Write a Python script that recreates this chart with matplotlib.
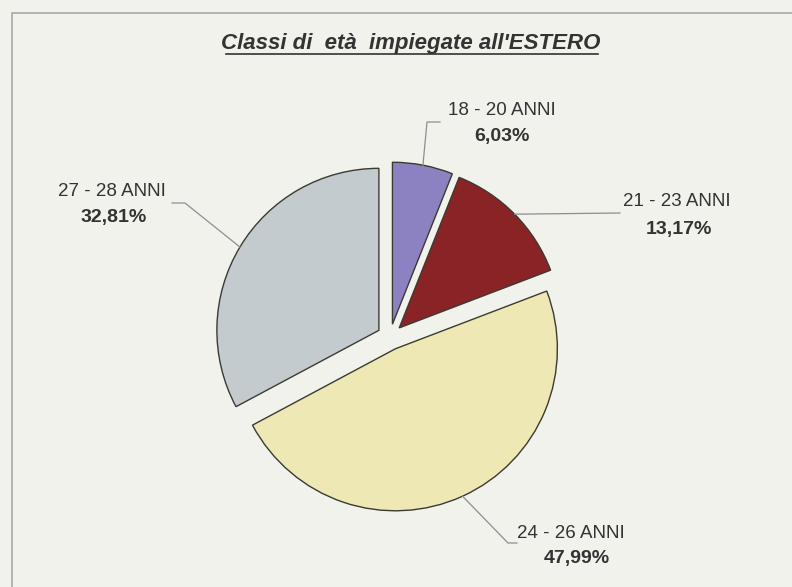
import numpy as np
import matplotlib
matplotlib.use("Agg")
import matplotlib.pyplot as plt
from matplotlib.lines import Line2D

# Data
labels = ["18 - 20 ANNI", "21 - 23 ANNI", "24 - 26 ANNI", "27 - 28 ANNI"]
values = [6.03, 13.17, 47.99, 32.81]
pct_text = ["6,03%", "13,17%", "47,99%", "32,81%"]

colors = ["#8C82C2", "#8A2326", "#EEE8B4", "#C4CBCF"]
EDGE = "#3A3A32"
TEXT = "#333333"
LEADER = "#8E8E8E"
BG = "#F1F2EC"

W, H = 792, 587
CX, CY, R = 390, 337, 162  # pie centre / radius in pixels


def px(x, y):
    """pixel position (top-left origin) -> data coords"""
    return (x - CX) / R, (CY - y) / R


fig = plt.figure(figsize=(W / 100, H / 100), dpi=100, facecolor=BG)
ax = fig.add_axes([0, 0, 1, 1])
ax.set_facecolor(BG)

wedges, _ = ax.pie(values, colors=colors, startangle=90, counterclock=False,
                   explode=[0.08] * 4, radius=1, center=(0, 0),
                   wedgeprops=dict(edgecolor=EDGE, linewidth=1.0))
x0, y0 = px(0, H)
x1, y1 = px(W, 0)
ax.set_xlim(x0, x1)
ax.set_ylim(y0, y1)
ax.set_aspect("equal")
ax.axis("off")

# frame of the scanned page
ax.add_line(Line2D(*zip(px(12, H), px(12, 13), px(W, 13)), color="#A8A8A8", lw=1.2))

# title with underline
tx, ty = px(411, 44)
ax.text(tx, ty, "Classi di  età  impiegate all'ESTERO", ha="center", va="center",
        fontsize=16, fontweight="bold", fontstyle="italic", color=TEXT,
        family=["Liberation Sans Narrow", "Liberation Sans", "DejaVu Sans"])
ax.add_line(Line2D(*zip(px(226, 54), px(598, 54)), color=TEXT, lw=1.2))

# label layout: (name pos, pct pos, leader elbow points) in pixels
layout = [
    ((502, 111), (502, 137), [(427, 122), (440, 122)]),
    ((677, 202), (679, 230), [(620, 213)]),
    ((571, 533), (577, 558), [(508, 543), (517, 543)]),
    ((112, 192), (114, 218), [(185, 203), (172, 203)]),
]

for w, lab, pct, (lpos, ppos, elbow) in zip(wedges, labels, pct_text, layout):
    mid = np.radians((w.theta1 + w.theta2) / 2)
    sx = w.center[0] + w.r * np.cos(mid)
    sy = w.center[1] + w.r * np.sin(mid)
    pts = [(sx, sy)] + [px(*p) for p in elbow]
    ax.add_line(Line2D([p[0] for p in pts], [p[1] for p in pts], color=LEADER, lw=0.9))
    ax.text(*px(*lpos), lab, ha="center", va="center", fontsize=13.5, color=TEXT,
            family=["Liberation Sans", "DejaVu Sans"])
    ax.text(*px(*ppos), pct, ha="center", va="center", fontsize=14, fontweight="bold",
            color=TEXT, family=["Liberation Sans", "DejaVu Sans"])

fig.savefig("out.png", dpi=100, facecolor=BG)
